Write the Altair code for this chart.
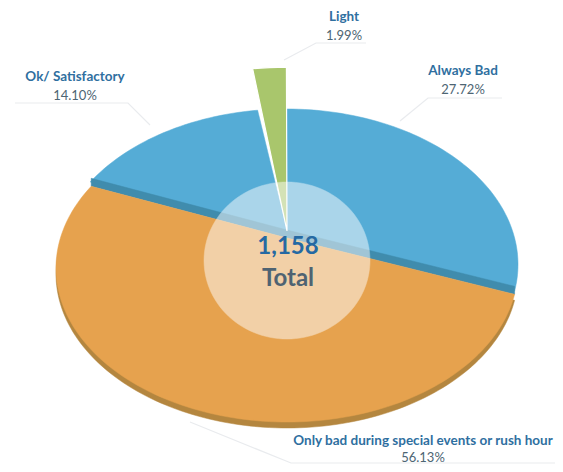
import math
import altair as alt
import pandas as pd

# ---- values ----
categories = ["Always Bad", "Only bad during special events or rush hour", "Ok/ Satisfactory", "Light"]
shares = [27.72, 56.13, 14.10, 1.99]
share_labels = ["27.72%", "56.13%", "14.10%", "1.99%"]
center_value = "1,158"
center_label = "Total"

# ---- layout ----
W, H = 547, 456
PAD = 8
BLUE, ORANGE, GREEN = "#55acd6", "#e6a24e", "#a9c66c"
BLUE_DK, ORANGE_DK = "#408cad", "#b4863f"
TEXT_BLUE, TEXT_GREY = "#2f6f9f", "#4d6573"
LEAD = "#e9ebee"

top = dict(cx=286.5, cy=264.5, rx=231.5, ry=155.5, ax=287, ay=231)
low = dict(cx=287, cy=268, rx=231, ry=154, ax=287, ay=238)
label_pos = {"Always Bad": (463, 71), categories[1]: (423, 441), "Ok/ Satisfactory": (75, 77), "Light": (344, 17)}
gaps = {"Always Bad": 18.5, categories[1]: 16.5, "Ok/ Satisfactory": 18.5, "Light": 18.5}
leaders = {
    "Always Bad": [(400, 121), (428, 98), (502, 98)],
    categories[1]: [(190, 422), (291, 463), (555, 463)],
    "Ok/ Satisfactory": [(150, 125), (128, 103), (15, 103)],
    "Light": [(284, 60), (316, 43), (366, 43)],
}

total = sum(shares)
edges = [0.0]
for s in shares:
    edges.append(edges[-1] + s / total * 360)


def rim(g, deg):
    t = math.radians(deg)
    return g["cx"] + g["rx"] * math.sin(t), g["cy"] - g["ry"] * math.cos(t)


def sector(g, a, b, dy=0.0, rim_up=0.0, stretch=1.0):
    n = max(3, int((b - a) / 1.5))
    pts = [(g["ax"], g["ay"] + dy)]
    for i in range(n + 1):
        x, y = rim(g, a + (b - a) * i / n)
        x = g["ax"] + (x - g["ax"]) * stretch
        y = g["ay"] + (y - g["ay"]) * stretch
        pts.append((x, y + dy - rim_up))
    return pts


x_scale = alt.Scale(domain=[PAD, PAD + W], range=[0, W], nice=False, zero=False)
y_scale = alt.Scale(domain=[PAD + H, PAD], range=[H, 0], nice=False, zero=False)
X = alt.X("x:Q", scale=x_scale, axis=None)
Y = alt.Y("y:Q", scale=y_scale, axis=None)


def poly(pts, color, opacity=1.0, stroke=None, sw=0.5):
    df = pd.DataFrame({"i": range(len(pts)), "x": [p[0] for p in pts], "y": [p[1] for p in pts]})
    return alt.Chart(df).mark_line(
        fill=color, stroke=stroke or color, strokeWidth=sw, interpolate="linear-closed",
        opacity=opacity, clip=False,
    ).encode(x=X, y=Y, order="i:O")


layers = []
# orange side wall
layers.append(poly(sector(low, edges[1], edges[2], dy=6), ORANGE_DK))
# blue tops
layers.append(poly(sector(top, edges[0], edges[1]), BLUE))
layers.append(poly(sector(top, edges[2], edges[3]), BLUE))
# blue wall seen along the orange edge
L0, L1 = rim(low, edges[2]), rim(low, edges[1])
band = [L0, (low["ax"], low["ay"]), L1, (L1[0], L1[1] - 8), (low["ax"], low["ay"] - 8), (L0[0], L0[1] - 8)]
layers.append(poly(band, BLUE_DK))
# orange top
layers.append(poly(sector(low, edges[1], edges[2]), ORANGE))
# exploded light slice
layers.append(poly(sector(top, edges[3], edges[4], stretch=1.17, rim_up=21), GREEN, stroke="#ffffff", sw=1.2))

# central translucent disc
disc = [(287 + 83 * math.cos(math.radians(d)), 260.5 + 78.5 * math.sin(math.radians(d))) for d in range(0, 360, 3)]
layers.append(poly(disc, "#ffffff", 0.5))

# leader lines
rows = []
for name, pts in leaders.items():
    for i, (x, y) in enumerate(pts):
        rows.append(dict(name=name, i=i, x=x, y=y))
layers.append(
    alt.Chart(pd.DataFrame(rows)).mark_line(color=LEAD, strokeWidth=1.2).encode(
        x=X, y=Y, detail="name:N", order="i:O"
    )
)

# labels
names_df = pd.DataFrame({"x": [label_pos[c][0] for c in categories], "y": [label_pos[c][1] for c in categories], "t": categories})
vals_df = pd.DataFrame({"x": [label_pos[c][0] for c in categories], "y": [label_pos[c][1] + gaps[c] for c in categories], "t": share_labels})
layers.append(alt.Chart(names_df).mark_text(font="Lato", fontSize=13.5, fontWeight="bold", color=TEXT_BLUE).encode(x=X, y=Y, text="t:N"))
layers.append(alt.Chart(vals_df).mark_text(font="Lato", fontSize=13, color=TEXT_GREY).encode(x=X, y=Y, text="t:N"))

# centre text
layers.append(alt.Chart(pd.DataFrame({"x": [288], "y": [247], "t": [center_value]})).mark_text(
    font="Lato", fontSize=24, fontWeight="bold", color="#2569a3").encode(x=X, y=Y, text="t:N"))
layers.append(alt.Chart(pd.DataFrame({"x": [288], "y": [279], "t": [center_label]})).mark_text(
    font="Lato", fontSize=24, fontWeight="bold", color="#4f6372").encode(x=X, y=Y, text="t:N"))

chart = alt.layer(*layers).properties(
    width=W, height=H, padding=0, background="#ffffff",
    autosize=alt.AutoSizeParams(type="none"),
).configure_view(stroke=None)
chart.save("out.html", embed_options={"renderer": "svg", "actions": False})
